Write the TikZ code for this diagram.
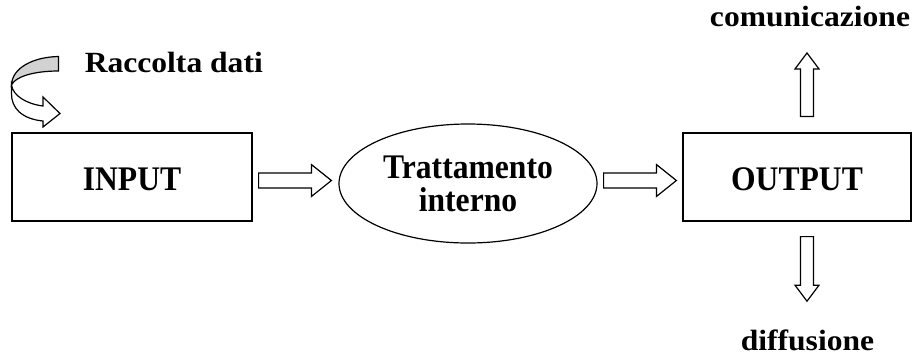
\documentclass[tikz,border=0pt]{standalone}
\usepackage{fontspec}
\setmainfont{Liberation Serif}
\newfontfamily\boxfont[FakeStretch=0.916]{Liberation Serif}
\newfontfamily\tagfont[FakeStretch=1.078]{Liberation Serif}
\usetikzlibrary{calc,shapes.geometric}

\tikzset{
  blocknode/.style={draw, minimum width=#1, minimum height=44pt, inner sep=0pt, text height=13pt, text depth=0pt},
  tag/.style={inner sep=0pt, anchor=base, font=\tagfont\fontsize{14.65}{16}\selectfont\bfseries},
  % gap at start, gap at end, half shaft, half head, head length
  blockarrow/.style n args={5}{draw, fill=white, to path={
    ($(\tikztostart)!#1!(\tikztotarget)$) coordinate (ba-s)
    ($(\tikztotarget)!#2!(\tikztostart)$) coordinate (ba-e)
    ($(ba-e)!#5!(ba-s)$) coordinate (ba-h)
    ($(ba-s)!#3!90:(ba-e)$) -- ($(ba-h)!#3!90:(ba-e)$) -- ($(ba-h)!#4!90:(ba-e)$) -- (ba-e)
    -- ($(ba-h)!#4!-90:(ba-e)$) -- ($(ba-h)!#3!-90:(ba-e)$) -- ($(ba-s)!#3!-90:(ba-e)$) -- cycle}}
}

\begin{document}
\begin{tikzpicture}[x=0.5pt,y=-0.5pt,line width=0.6pt,
  every node/.style={font=\boxfont\fontsize{17.25}{16.5}\selectfont\bfseries}]
\useasboundingbox (0,0) rectangle (912,355);

\node [blocknode=120pt] (input) at (132,177) {INPUT};
\node [ellipse, draw, minimum width=129pt, minimum height=59.5pt, inner sep=0pt, align=center] (proc) at (468,183.5) {Trattamento\\interno};
\node [blocknode=114pt] (output) at (797,177) {OUTPUT};

\node [tag] (dati) at (173.8,72.5) {Raccolta dati};
\node [tag] (com) at (810,26.7) {comunicazione};
\node [tag] (dif) at (807.5,350) {diffusione};

% curved arrow
\filldraw [fill=gray!35] (58.5,56.5) .. controls (33,57) and (12,68) .. (11.5,85) .. controls (15,77) and (33,71) .. (58.5,71) -- cycle;
\filldraw [fill=white] (11.5,85) .. controls (13,96) and (27,104) .. (43,106) -- (43,97) -- (60,113.5) -- (43,127) -- (43,121) .. controls (22,119) and (11,108) .. (11.5,93) -- cycle;

% block arrows
\draw [blockarrow={3pt}{3.5pt}{3.75pt}{8pt}{10pt}] ([yshift=-1.75pt]input.east) to ([yshift=-1.75pt]input.east -| proc.west);
\draw [blockarrow={3pt}{3pt}{3.75pt}{8pt}{10pt}] ([yshift=-1.75pt]output.west -| proc.east) to ([yshift=-1.75pt]output.west);
\draw [blockarrow={8pt}{12.65pt}{3.25pt}{6pt}{8pt}] ([xshift=5pt]output.north) to ([xshift=5pt]output.north |- com.south);
\draw [blockarrow={7.5pt}{13.8pt}{3.25pt}{6pt}{8pt}] ([xshift=5pt]output.south) to ([xshift=5pt]output.south |- dif.north);
\end{tikzpicture}
\end{document}
